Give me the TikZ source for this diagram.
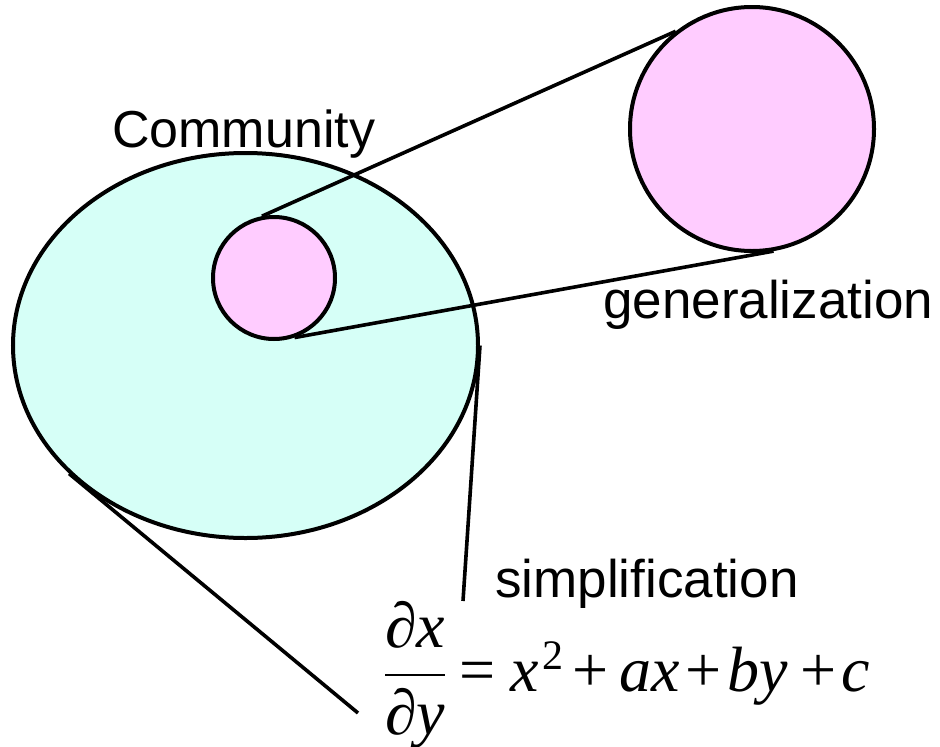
\documentclass[tikz,border=0pt]{standalone}
\usepackage{mathptmx}
\usepackage[no-math]{fontspec}
\newfontfamily\labfont{Liberation Sans}
\newfontfamily\eqfont{Liberation Serif}
\usetikzlibrary{shapes.geometric}
\definecolor{commfill}{RGB}{214,255,247}
\definecolor{pinkfill}{RGB}{255,204,255}
\newcommand{\putat}[2]{\rlap{\hspace*{#1pt}#2}}
\newcommand{\iv}[1]{{\itshape #1}}
\begin{document}
\begin{tikzpicture}[x=1pt,y=-1pt,
  outline/.style={draw=black,line width=4pt},
  conn/.style={draw=black,line width=3.6pt},
  lab/.style={inner sep=0pt,anchor=base west,font=\labfont\fontsize{53}{60}\selectfont}]
\useasboundingbox (0,0) rectangle (940,747);
\node[ellipse,outline,fill=commfill,minimum width=465pt,minimum height=385pt,inner sep=0pt] (comm) at (245.5,345.5) {};
\node[circle,outline,fill=pinkfill,minimum size=122pt,inner sep=0pt] (small) at (274,278) {};
\node[circle,outline,fill=pinkfill,minimum size=244pt,inner sep=0pt] (big) at (752,129) {};
\draw[conn] (small.101) -- (big.128);
\draw[conn] (small.-71) -- (big.-80);
\coordinate (sEnd) at (463,601);
\coordinate (eEnd) at (358,713);
\draw[conn] (comm.east) -- (sEnd);
\draw[conn] (comm.216) -- (eEnd);
\node[lab,font=\labfont\fontsize{52}{60}\selectfont] (tcomm) at (112,147) {Community};
\node[lab] (tgen) at (603,318) {generalization};
\node[lab] (tsimp) at (495,597) {simplification};
\node[inner sep=0pt,anchor=base west,font=\eqfont\fontsize{64}{72}\selectfont] (eq) at (385,691)
  {\nulldelimiterspace=0pt%
   \putat{0}{$\displaystyle\frac{\mbox{∂\iv{x}}}{\mbox{∂\iv{y}}}$}%
   \putat{74}{=}%
   \putat{125}{\iv{x}}%
   \putat{157}{\raisebox{22pt}{\fontsize{42}{48}\selectfont 2}}%
   \putat{187}{+}%
   \putat{234}{\iv{ax}}%
   \putat{300}{+}%
   \putat{342}{\iv{by}}%
   \putat{415}{+}%
   \putat{456}{\iv{c}}%
   \hspace*{478pt}};
\end{tikzpicture}
\end{document}
